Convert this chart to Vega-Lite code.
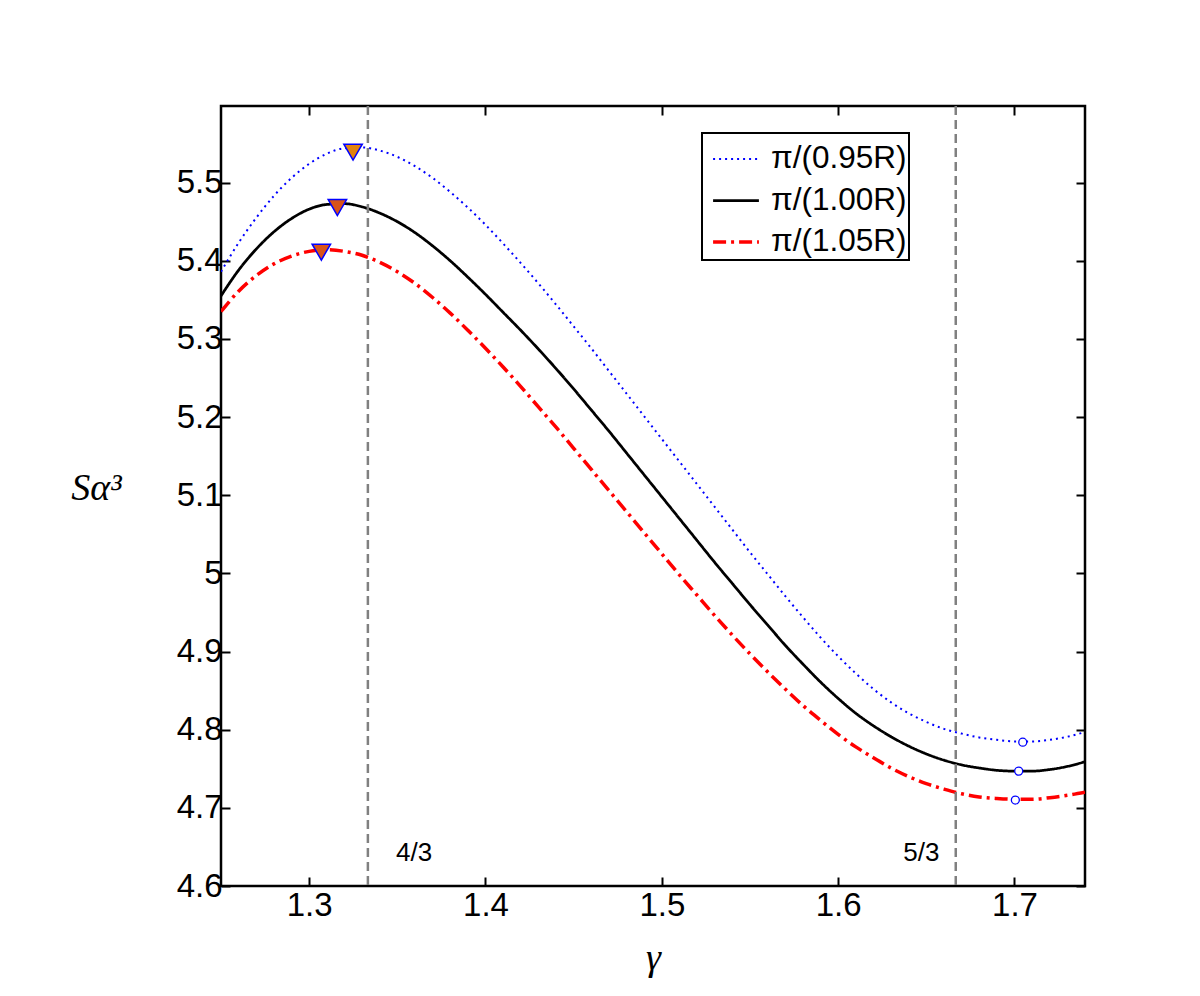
{
  "$schema": "https://vega.github.io/schema/vega-lite/v6.json",
  "width": 864,
  "height": 780,
  "autosize": "none",
  "padding": {"left": 221, "top": 106, "right": 115, "bottom": 110},
  "background": "white",
  "config": {
    "view": {"stroke": "black", "strokeWidth": 2.5},
    "font": "Liberation Sans",
    "axis": {
      "grid": false,
      "domain": false,
      "tickColor": "black",
      "tickWidth": 2,
      "tickSize": -9,
      "labelColor": "black",
      "labelFont": "Liberation Sans",
      "labelFontSize": 33,
      "titleColor": "black",
      "titleFont": "Liberation Serif",
      "titleFontStyle": "italic",
      "titleFontWeight": "normal",
      "titleFontSize": 38
    },
    "legend": {"strokeWidth": 2}
  },
  "datasets": {
    "curves": [
      {"gamma": 1.25, "S": 5.386, "series": "π/(0.95R)"},
      {"gamma": 1.26, "S": 5.423, "series": "π/(0.95R)"},
      {"gamma": 1.27, "S": 5.455, "series": "π/(0.95R)"},
      {"gamma": 1.28, "S": 5.483, "series": "π/(0.95R)"},
      {"gamma": 1.29, "S": 5.506, "series": "π/(0.95R)"},
      {"gamma": 1.30, "S": 5.524, "series": "π/(0.95R)"},
      {"gamma": 1.31, "S": 5.537, "series": "π/(0.95R)"},
      {"gamma": 1.32, "S": 5.544, "series": "π/(0.95R)"},
      {"gamma": 1.33, "S": 5.545, "series": "π/(0.95R)"},
      {"gamma": 1.34, "S": 5.541, "series": "π/(0.95R)"},
      {"gamma": 1.35, "S": 5.533, "series": "π/(0.95R)"},
      {"gamma": 1.36, "S": 5.521, "series": "π/(0.95R)"},
      {"gamma": 1.37, "S": 5.506, "series": "π/(0.95R)"},
      {"gamma": 1.38, "S": 5.488, "series": "π/(0.95R)"},
      {"gamma": 1.39, "S": 5.468, "series": "π/(0.95R)"},
      {"gamma": 1.40, "S": 5.446, "series": "π/(0.95R)"},
      {"gamma": 1.41, "S": 5.422, "series": "π/(0.95R)"},
      {"gamma": 1.42, "S": 5.397, "series": "π/(0.95R)"},
      {"gamma": 1.43, "S": 5.371, "series": "π/(0.95R)"},
      {"gamma": 1.44, "S": 5.344, "series": "π/(0.95R)"},
      {"gamma": 1.45, "S": 5.316, "series": "π/(0.95R)"},
      {"gamma": 1.46, "S": 5.288, "series": "π/(0.95R)"},
      {"gamma": 1.47, "S": 5.259, "series": "π/(0.95R)"},
      {"gamma": 1.48, "S": 5.230, "series": "π/(0.95R)"},
      {"gamma": 1.49, "S": 5.201, "series": "π/(0.95R)"},
      {"gamma": 1.50, "S": 5.172, "series": "π/(0.95R)"},
      {"gamma": 1.51, "S": 5.143, "series": "π/(0.95R)"},
      {"gamma": 1.52, "S": 5.114, "series": "π/(0.95R)"},
      {"gamma": 1.53, "S": 5.085, "series": "π/(0.95R)"},
      {"gamma": 1.54, "S": 5.056, "series": "π/(0.95R)"},
      {"gamma": 1.55, "S": 5.027, "series": "π/(0.95R)"},
      {"gamma": 1.56, "S": 4.999, "series": "π/(0.95R)"},
      {"gamma": 1.57, "S": 4.971, "series": "π/(0.95R)"},
      {"gamma": 1.58, "S": 4.944, "series": "π/(0.95R)"},
      {"gamma": 1.59, "S": 4.918, "series": "π/(0.95R)"},
      {"gamma": 1.60, "S": 4.894, "series": "π/(0.95R)"},
      {"gamma": 1.61, "S": 4.872, "series": "π/(0.95R)"},
      {"gamma": 1.62, "S": 4.852, "series": "π/(0.95R)"},
      {"gamma": 1.63, "S": 4.835, "series": "π/(0.95R)"},
      {"gamma": 1.64, "S": 4.821, "series": "π/(0.95R)"},
      {"gamma": 1.65, "S": 4.810, "series": "π/(0.95R)"},
      {"gamma": 1.66, "S": 4.801, "series": "π/(0.95R)"},
      {"gamma": 1.67, "S": 4.795, "series": "π/(0.95R)"},
      {"gamma": 1.68, "S": 4.790, "series": "π/(0.95R)"},
      {"gamma": 1.69, "S": 4.787, "series": "π/(0.95R)"},
      {"gamma": 1.70, "S": 4.785, "series": "π/(0.95R)"},
      {"gamma": 1.71, "S": 4.785, "series": "π/(0.95R)"},
      {"gamma": 1.72, "S": 4.787, "series": "π/(0.95R)"},
      {"gamma": 1.73, "S": 4.791, "series": "π/(0.95R)"},
      {"gamma": 1.74, "S": 4.797, "series": "π/(0.95R)"},
      {"gamma": 1.25, "S": 5.355, "series": "π/(1.00R)"},
      {"gamma": 1.26, "S": 5.388, "series": "π/(1.00R)"},
      {"gamma": 1.27, "S": 5.415, "series": "π/(1.00R)"},
      {"gamma": 1.28, "S": 5.437, "series": "π/(1.00R)"},
      {"gamma": 1.29, "S": 5.454, "series": "π/(1.00R)"},
      {"gamma": 1.30, "S": 5.466, "series": "π/(1.00R)"},
      {"gamma": 1.31, "S": 5.472, "series": "π/(1.00R)"},
      {"gamma": 1.32, "S": 5.473, "series": "π/(1.00R)"},
      {"gamma": 1.33, "S": 5.469, "series": "π/(1.00R)"},
      {"gamma": 1.34, "S": 5.461, "series": "π/(1.00R)"},
      {"gamma": 1.35, "S": 5.450, "series": "π/(1.00R)"},
      {"gamma": 1.36, "S": 5.436, "series": "π/(1.00R)"},
      {"gamma": 1.37, "S": 5.419, "series": "π/(1.00R)"},
      {"gamma": 1.38, "S": 5.400, "series": "π/(1.00R)"},
      {"gamma": 1.39, "S": 5.379, "series": "π/(1.00R)"},
      {"gamma": 1.40, "S": 5.357, "series": "π/(1.00R)"},
      {"gamma": 1.41, "S": 5.334, "series": "π/(1.00R)"},
      {"gamma": 1.42, "S": 5.311, "series": "π/(1.00R)"},
      {"gamma": 1.43, "S": 5.287, "series": "π/(1.00R)"},
      {"gamma": 1.44, "S": 5.262, "series": "π/(1.00R)"},
      {"gamma": 1.45, "S": 5.236, "series": "π/(1.00R)"},
      {"gamma": 1.46, "S": 5.209, "series": "π/(1.00R)"},
      {"gamma": 1.47, "S": 5.182, "series": "π/(1.00R)"},
      {"gamma": 1.48, "S": 5.154, "series": "π/(1.00R)"},
      {"gamma": 1.49, "S": 5.126, "series": "π/(1.00R)"},
      {"gamma": 1.50, "S": 5.098, "series": "π/(1.00R)"},
      {"gamma": 1.51, "S": 5.070, "series": "π/(1.00R)"},
      {"gamma": 1.52, "S": 5.042, "series": "π/(1.00R)"},
      {"gamma": 1.53, "S": 5.014, "series": "π/(1.00R)"},
      {"gamma": 1.54, "S": 4.987, "series": "π/(1.00R)"},
      {"gamma": 1.55, "S": 4.960, "series": "π/(1.00R)"},
      {"gamma": 1.56, "S": 4.934, "series": "π/(1.00R)"},
      {"gamma": 1.57, "S": 4.908, "series": "π/(1.00R)"},
      {"gamma": 1.58, "S": 4.884, "series": "π/(1.00R)"},
      {"gamma": 1.59, "S": 4.861, "series": "π/(1.00R)"},
      {"gamma": 1.60, "S": 4.840, "series": "π/(1.00R)"},
      {"gamma": 1.61, "S": 4.821, "series": "π/(1.00R)"},
      {"gamma": 1.62, "S": 4.805, "series": "π/(1.00R)"},
      {"gamma": 1.63, "S": 4.791, "series": "π/(1.00R)"},
      {"gamma": 1.64, "S": 4.779, "series": "π/(1.00R)"},
      {"gamma": 1.65, "S": 4.769, "series": "π/(1.00R)"},
      {"gamma": 1.66, "S": 4.761, "series": "π/(1.00R)"},
      {"gamma": 1.67, "S": 4.755, "series": "π/(1.00R)"},
      {"gamma": 1.68, "S": 4.751, "series": "π/(1.00R)"},
      {"gamma": 1.69, "S": 4.748, "series": "π/(1.00R)"},
      {"gamma": 1.70, "S": 4.747, "series": "π/(1.00R)"},
      {"gamma": 1.71, "S": 4.747, "series": "π/(1.00R)"},
      {"gamma": 1.72, "S": 4.749, "series": "π/(1.00R)"},
      {"gamma": 1.73, "S": 4.753, "series": "π/(1.00R)"},
      {"gamma": 1.74, "S": 4.759, "series": "π/(1.00R)"},
      {"gamma": 1.25, "S": 5.335, "series": "π/(1.05R)"},
      {"gamma": 1.26, "S": 5.361, "series": "π/(1.05R)"},
      {"gamma": 1.27, "S": 5.381, "series": "π/(1.05R)"},
      {"gamma": 1.28, "S": 5.396, "series": "π/(1.05R)"},
      {"gamma": 1.29, "S": 5.406, "series": "π/(1.05R)"},
      {"gamma": 1.30, "S": 5.412, "series": "π/(1.05R)"},
      {"gamma": 1.31, "S": 5.414, "series": "π/(1.05R)"},
      {"gamma": 1.32, "S": 5.412, "series": "π/(1.05R)"},
      {"gamma": 1.33, "S": 5.407, "series": "π/(1.05R)"},
      {"gamma": 1.34, "S": 5.398, "series": "π/(1.05R)"},
      {"gamma": 1.35, "S": 5.386, "series": "π/(1.05R)"},
      {"gamma": 1.36, "S": 5.371, "series": "π/(1.05R)"},
      {"gamma": 1.37, "S": 5.353, "series": "π/(1.05R)"},
      {"gamma": 1.38, "S": 5.333, "series": "π/(1.05R)"},
      {"gamma": 1.39, "S": 5.311, "series": "π/(1.05R)"},
      {"gamma": 1.40, "S": 5.288, "series": "π/(1.05R)"},
      {"gamma": 1.41, "S": 5.264, "series": "π/(1.05R)"},
      {"gamma": 1.42, "S": 5.239, "series": "π/(1.05R)"},
      {"gamma": 1.43, "S": 5.213, "series": "π/(1.05R)"},
      {"gamma": 1.44, "S": 5.187, "series": "π/(1.05R)"},
      {"gamma": 1.45, "S": 5.160, "series": "π/(1.05R)"},
      {"gamma": 1.46, "S": 5.133, "series": "π/(1.05R)"},
      {"gamma": 1.47, "S": 5.106, "series": "π/(1.05R)"},
      {"gamma": 1.48, "S": 5.079, "series": "π/(1.05R)"},
      {"gamma": 1.49, "S": 5.052, "series": "π/(1.05R)"},
      {"gamma": 1.50, "S": 5.025, "series": "π/(1.05R)"},
      {"gamma": 1.51, "S": 4.998, "series": "π/(1.05R)"},
      {"gamma": 1.52, "S": 4.972, "series": "π/(1.05R)"},
      {"gamma": 1.53, "S": 4.946, "series": "π/(1.05R)"},
      {"gamma": 1.54, "S": 4.921, "series": "π/(1.05R)"},
      {"gamma": 1.55, "S": 4.897, "series": "π/(1.05R)"},
      {"gamma": 1.56, "S": 4.874, "series": "π/(1.05R)"},
      {"gamma": 1.57, "S": 4.852, "series": "π/(1.05R)"},
      {"gamma": 1.58, "S": 4.831, "series": "π/(1.05R)"},
      {"gamma": 1.59, "S": 4.812, "series": "π/(1.05R)"},
      {"gamma": 1.60, "S": 4.794, "series": "π/(1.05R)"},
      {"gamma": 1.61, "S": 4.778, "series": "π/(1.05R)"},
      {"gamma": 1.62, "S": 4.764, "series": "π/(1.05R)"},
      {"gamma": 1.63, "S": 4.751, "series": "π/(1.05R)"},
      {"gamma": 1.64, "S": 4.740, "series": "π/(1.05R)"},
      {"gamma": 1.65, "S": 4.731, "series": "π/(1.05R)"},
      {"gamma": 1.66, "S": 4.724, "series": "π/(1.05R)"},
      {"gamma": 1.67, "S": 4.718, "series": "π/(1.05R)"},
      {"gamma": 1.68, "S": 4.714, "series": "π/(1.05R)"},
      {"gamma": 1.69, "S": 4.712, "series": "π/(1.05R)"},
      {"gamma": 1.70, "S": 4.711, "series": "π/(1.05R)"},
      {"gamma": 1.71, "S": 4.711, "series": "π/(1.05R)"},
      {"gamma": 1.72, "S": 4.713, "series": "π/(1.05R)"},
      {"gamma": 1.73, "S": 4.716, "series": "π/(1.05R)"},
      {"gamma": 1.74, "S": 4.720, "series": "π/(1.05R)"}
    ],
    "markers": [
      {"gamma": 1.3249, "S": 5.539, "series": "π/(0.95R)", "kind": "max"},
      {"gamma": 1.3160, "S": 5.468, "series": "π/(1.00R)", "kind": "max"},
      {"gamma": 1.3069, "S": 5.411, "series": "π/(1.05R)", "kind": "max"},
      {"gamma": 1.7047, "S": 4.784, "series": "π/(0.95R)", "kind": "min"},
      {"gamma": 1.7024, "S": 4.747, "series": "π/(1.00R)", "kind": "min"},
      {"gamma": 1.7005, "S": 4.710, "series": "π/(1.05R)", "kind": "min"}
    ],
    "refs": [
      {"gamma": 1.3333, "label": "4/3", "labelGamma": 1.3595, "labelS": 4.642},
      {"gamma": 1.6667, "label": "5/3", "labelGamma": 1.6472, "labelS": 4.642}
    ]
  },
  "layer": [
    {
      "data": {"name": "curves"},
      "mark": {"type": "line", "clip": true, "interpolate": "monotone"},
      "encoding": {
        "x": {
          "field": "gamma", "type": "quantitative",
          "scale": {"domain": [1.25, 1.74], "nice": false, "zero": false},
          "axis": {
            "orient": "bottom", "values": [1.3, 1.4, 1.5, 1.6, 1.7], "format": ".1f",
            "labelPadding": 12, "title": "γ", "titleY": 72, "titleBaseline": "middle"
          }
        },
        "y": {
          "field": "S", "type": "quantitative",
          "scale": {"domain": [4.6, 5.598], "nice": false, "zero": false},
          "axis": {
            "orient": "left", "values": [4.6, 4.7, 4.8, 4.9, 5, 5.1, 5.2, 5.3, 5.4, 5.5], "format": ".1~f",
            "labelPadding": 8, "title": "Sα³", "titleAngle": 0, "titleX": -125, "titleY": 382,
            "titleAlign": "center", "titleBaseline": "middle"
          }
        },
        "color": {
          "field": "series", "type": "nominal",
          "scale": {"domain": ["π/(0.95R)", "π/(1.00R)", "π/(1.05R)"], "range": ["#0000FF", "#000000", "#FF0000"]},
          "legend": {
            "title": null, "orient": "none", "legendX": 481, "legendY": 27,
            "strokeColor": "black", "fillColor": "white", "padding": 2,
            "labelFont": "Liberation Sans", "labelFontSize": 31.5, "labelColor": "black",
            "symbolType": "stroke", "symbolSize": 2100, "symbolStrokeWidth": 3, "symbolOffset": 7,
            "rowPadding": 1, "labelOffset": 10
          }
        },
        "strokeDash": {
          "field": "series", "type": "nominal",
          "scale": {"domain": ["π/(0.95R)", "π/(1.00R)", "π/(1.05R)"], "range": [[2, 4], [1, 0], [13, 5, 3, 5]]},
          "legend": {
            "title": null, "orient": "none", "legendX": 481, "legendY": 27,
            "strokeColor": "black", "fillColor": "white", "padding": 2,
            "labelFont": "Liberation Sans", "labelFontSize": 31.5, "labelColor": "black",
            "symbolType": "stroke", "symbolSize": 2100, "symbolStrokeWidth": 3, "symbolOffset": 7,
            "rowPadding": 1, "labelOffset": 10
          }
        },
        "strokeWidth": {
          "field": "series", "type": "ordinal",
          "scale": {"domain": ["π/(0.95R)", "π/(1.00R)", "π/(1.05R)"], "range": [2, 3.5, 3.5]},
          "legend": null
        }
      }
    },
    {
      "data": {"name": "refs"},
      "mark": {"type": "rule", "color": "#808080", "strokeWidth": 2.5, "strokeDash": [9, 5]},
      "encoding": {
        "x": {"field": "gamma", "type": "quantitative", "scale": {"domain": [1.25, 1.74], "nice": false, "zero": false}, "axis": null}
      }
    },
    {
      "data": {"name": "refs"},
      "mark": {"type": "text", "font": "Liberation Sans", "fontSize": 26, "color": "black", "align": "center", "baseline": "middle"},
      "encoding": {
        "x": {"field": "labelGamma", "type": "quantitative", "scale": {"domain": [1.25, 1.74], "nice": false, "zero": false}, "axis": null},
        "y": {"field": "labelS", "type": "quantitative", "scale": {"domain": [4.6, 5.598], "nice": false, "zero": false}, "axis": null},
        "text": {"field": "label"}
      }
    },
    {
      "data": {"name": "markers"},
      "transform": [{"filter": "datum.kind == 'max'"}],
      "mark": {"type": "point", "shape": "triangle-down", "filled": true, "stroke": "#0000FF", "strokeWidth": 1.5, "size": 340, "opacity": 1},
      "encoding": {
        "x": {
          "field": "gamma", "type": "quantitative",
          "scale": {"domain": [1.25, 1.74], "nice": false, "zero": false},
          "axis": {"orient": "top", "values": [1.3, 1.4, 1.5, 1.6, 1.7], "labels": false, "title": null}
        },
        "y": {
          "field": "S", "type": "quantitative",
          "scale": {"domain": [4.6, 5.598], "nice": false, "zero": false},
          "axis": {"orient": "right", "values": [4.6, 4.7, 4.8, 4.9, 5, 5.1, 5.2, 5.3, 5.4, 5.5], "labels": false, "title": null}
        },
        "fill": {
          "field": "series", "type": "nominal",
          "scale": {"domain": ["π/(0.95R)", "π/(1.00R)", "π/(1.05R)"], "range": ["#E2830F", "#D95319", "#D95319"]},
          "legend": null
        }
      }
    },
    {
      "data": {"name": "markers"},
      "transform": [{"filter": "datum.kind == 'min'"}],
      "mark": {"type": "point", "shape": "circle", "filled": true, "fill": "white", "stroke": "#0000FF", "strokeWidth": 1.3, "size": 64, "opacity": 1},
      "encoding": {
        "x": {"field": "gamma", "type": "quantitative", "scale": {"domain": [1.25, 1.74], "nice": false, "zero": false}, "axis": null},
        "y": {"field": "S", "type": "quantitative", "scale": {"domain": [4.6, 5.598], "nice": false, "zero": false}, "axis": null}
      }
    }
  ],
  "resolve": {"axis": {"x": "independent", "y": "independent"}}
}
